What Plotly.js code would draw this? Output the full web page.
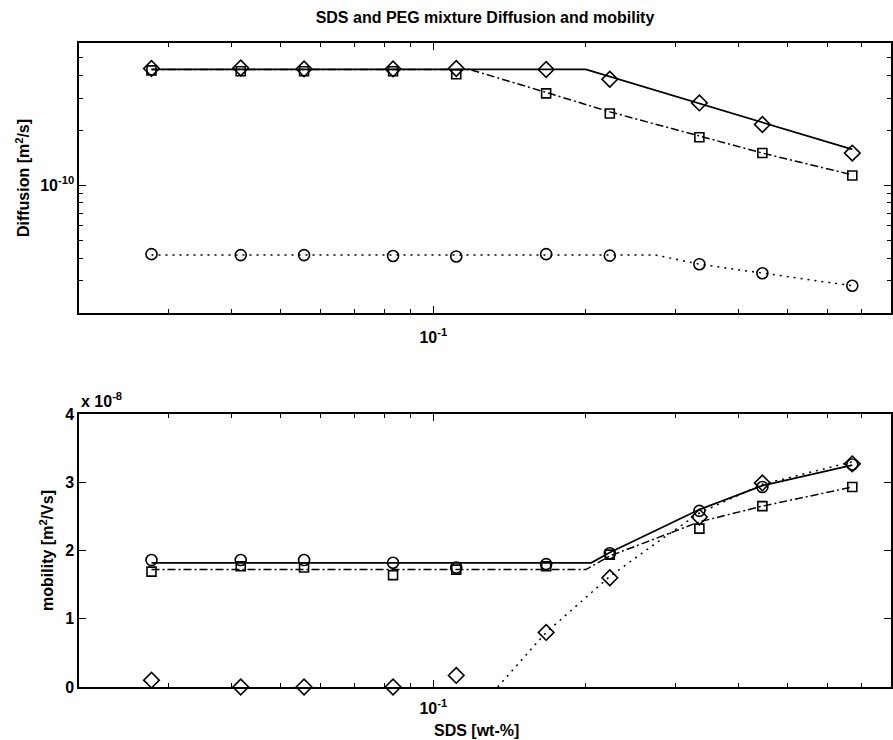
<!DOCTYPE html>
<html>
<head>
<meta charset="utf-8">
<script src="https://cdn.plot.ly/plotly-3.0.1.min.js"></script>
<style>html,body{margin:0;padding:0;background:#fff;}#chart{width:893px;height:740px;}</style>
</head>
<body>
<div id="chart"></div>
<script>
// SDS concentration [wt-%]
const sds = [0.0278, 0.0417, 0.0556, 0.0833, 0.111, 0.167, 0.223, 0.335, 0.446, 0.671];

// Top panel: diffusion [m^2/s]
const diffDiamond = [4.35e-10, 4.38e-10, 4.33e-10, 4.33e-10, 4.35e-10, 4.3e-10, 3.8e-10, 2.82e-10, 2.15e-10, 1.5e-10];
const diffSquare  = [4.25e-10, 4.2e-10, 4.2e-10, 4.2e-10, 4.05e-10, 3.18e-10, 2.47e-10, 1.83e-10, 1.5e-10, 1.13e-10];
const diffCircle  = [4.2e-11, 4.15e-11, 4.15e-11, 4.1e-11, 4.08e-11, 4.2e-11, 4.12e-11, 3.7e-11, 3.3e-11, 2.82e-11];

// Top panel model curves
const fitDiffSolidX = [0.0278, 0.2, 0.671];
const fitDiffSolidY = [4.3e-10, 4.3e-10, 1.57e-10];
const fitDiffDashX  = [0.0278, 0.118, 0.167, 0.223, 0.335, 0.446, 0.671];
const fitDiffDashY  = [4.3e-10, 4.3e-10, 3.22e-10, 2.52e-10, 1.86e-10, 1.5e-10, 1.14e-10];
const fitDiffDotX   = [0.0278, 0.275, 0.335, 0.446, 0.671];
const fitDiffDotY   = [4.15e-11, 4.15e-11, 3.7e-11, 3.3e-11, 2.82e-11];

// Bottom panel: mobility [x 1e-8 m^2/Vs]
const mobCircle  = [1.86, 1.86, 1.86, 1.82, 1.75, 1.80, 1.96, 2.58, 2.93, 3.26];
const mobSquare  = [1.69, 1.77, 1.75, 1.64, 1.72, 1.77, 1.94, 2.32, 2.65, 2.93];
const mobDiamond = [0.10, 0.00, 0.00, 0.00, 0.17, 0.80, 1.60, 2.49, 2.99, 3.27];

// Bottom panel model curves
const fitMobSolidX = [0.0278, 0.205, 0.223, 0.28, 0.335, 0.446, 0.671];
const fitMobSolidY = [1.82, 1.82, 1.97, 2.32, 2.6, 2.95, 3.25];
const fitMobDashX  = [0.0278, 0.2, 0.223, 0.28, 0.335, 0.446, 0.671];
const fitMobDashY  = [1.72, 1.72, 1.92, 2.2, 2.42, 2.65, 2.93];
const fitMobDotX   = [0.134, 0.167, 0.223, 0.28, 0.335, 0.446, 0.671];
const fitMobDotY   = [0.0, 0.80, 1.62, 2.15, 2.55, 2.97, 3.3];

// Tick definitions
const xMajorVals = [0.1];
const xMajorText = ['10<sup>-1</sup>'];
const xMinorVals = [0.02,0.03,0.04,0.05,0.06,0.07,0.08,0.09,0.2,0.3,0.4,0.5,0.6,0.7,0.8];
const yDiffMajorVals = [1e-10];
const yDiffMajorText = ['10<sup>-10</sup>'];
const yDiffMinorVals = [2e-11,3e-11,4e-11,5e-11,6e-11,7e-11,8e-11,9e-11,2e-10,3e-10,4e-10,5e-10,6e-10];
const yMobTickVals = [0, 1, 2, 3, 4];
const yMobTickText = ['0', '1', '2', '3', '4'];

const K = '#000';
const FONT = {family: 'Liberation Sans, Arial, sans-serif', size: 16, color: K, weight: 'bold'};

function lineTrace(x, y, dash, xa, ya) {
  return {x: x, y: y, type: 'scatter', mode: 'lines', xaxis: xa, yaxis: ya,
          line: {color: K, width: dash === 'solid' ? 1.8 : 1.5, dash: dash}, hoverinfo: 'skip', showlegend: false};
}
function markTrace(x, y, sym, xa, ya) {
  const sz = sym === 'diamond-open' ? 12 : (sym === 'circle-open' ? 11 : 9);
  return {x: x, y: y, type: 'scatter', mode: 'markers', xaxis: xa, yaxis: ya, cliponaxis: false,
          marker: {symbol: sym, size: sz, color: K, line: {color: K, width: 1.6}}, showlegend: false};
}
const DASHDOT = '8px,3px,2px,3px';
const DOT = '2px,5px';

const data = [
  lineTrace(fitDiffSolidX, fitDiffSolidY, 'solid', 'x', 'y'),
  lineTrace(fitDiffDashX, fitDiffDashY, DASHDOT, 'x', 'y'),
  lineTrace(fitDiffDotX, fitDiffDotY, DOT, 'x', 'y'),
  markTrace(sds, diffDiamond, 'diamond-open', 'x', 'y'),
  markTrace(sds, diffSquare, 'square-open', 'x', 'y'),
  markTrace(sds, diffCircle, 'circle-open', 'x', 'y'),
  lineTrace(fitMobSolidX, fitMobSolidY, 'solid', 'x2', 'y2'),
  lineTrace(fitMobDashX, fitMobDashY, DASHDOT, 'x2', 'y2'),
  lineTrace(fitMobDotX, fitMobDotY, DOT, 'x2', 'y2'),
  markTrace(sds, mobCircle, 'circle-open', 'x2', 'y2'),
  markTrace(sds, mobSquare, 'square-open', 'x2', 'y2'),
  markTrace(sds, mobDiamond, 'diamond-open', 'x2', 'y2')
];

const axBase = {showline: true, linecolor: K, linewidth: 1.6, mirror: 'ticks', ticks: 'inside',
                ticklen: 7, tickcolor: K, tickwidth: 1.2, showgrid: false, zeroline: false,
                tickfont: FONT, automargin: false, tickmode: 'array'};
const minorLog = vals => ({tickmode: 'array', tickvals: vals, ticks: 'inside', ticklen: 4, tickcolor: K, tickwidth: 1, showgrid: false});

const layout = {
  width: 893, height: 740,
  paper_bgcolor: '#fff', plot_bgcolor: '#fff',
  margin: {l: 79, r: 0, t: 43, b: 53},
  font: FONT,
  showlegend: false,
  title: {text: 'SDS and PEG mixture Diffusion and mobility', font: FONT, xref: 'paper', x: 0.5, xanchor: 'center', y: 0.976, yanchor: 'middle'},
  xaxis: Object.assign({}, axBase, {type: 'log', range: [Math.log10(0.02), Math.log10(0.8)], anchor: 'y',
          tickvals: xMajorVals, ticktext: xMajorText, minor: minorLog(xMinorVals), ticklabelstandoff: 9}),
  yaxis: Object.assign({}, axBase, {type: 'log', domain: [0.5807, 1], range: [Math.log10(2e-11), Math.log10(6e-10)], anchor: 'x',
          tickvals: yDiffMajorVals, ticktext: yDiffMajorText, minor: minorLog(yDiffMinorVals),
          automargin: true, title: {text: 'Diffusion [m<sup>2</sup>/s]', font: FONT, standoff: 6}}),
  xaxis2: Object.assign({}, axBase, {type: 'log', range: [Math.log10(0.02), Math.log10(0.8)], anchor: 'y2',
          tickvals: xMajorVals, ticktext: xMajorText, minor: minorLog(xMinorVals), ticklabelstandoff: 6}),
  yaxis2: Object.assign({}, axBase, {domain: [0, 0.4239], range: [0, 4], anchor: 'x2',
          tickvals: yMobTickVals, ticktext: yMobTickText,
          automargin: true, title: {text: 'mobility [m<sup>2</sup>/Vs]', font: FONT, standoff: 7}}),
  annotations: [
    {text: 'x 10<sup>-8</sup>', xref: 'paper', yref: 'paper', x: 0, y: 0.4457, xanchor: 'left', yanchor: 'middle',
     showarrow: false, font: FONT},
    {text: 'SDS [wt-%]', xref: 'paper', yref: 'paper', x: 0.49, y: -0.067, xanchor: 'center', yanchor: 'middle',
     showarrow: false, font: FONT}
  ]
};

Plotly.newPlot('chart', data, layout, {staticPlot: true, displayModeBar: false});
</script>
</body>
</html>
